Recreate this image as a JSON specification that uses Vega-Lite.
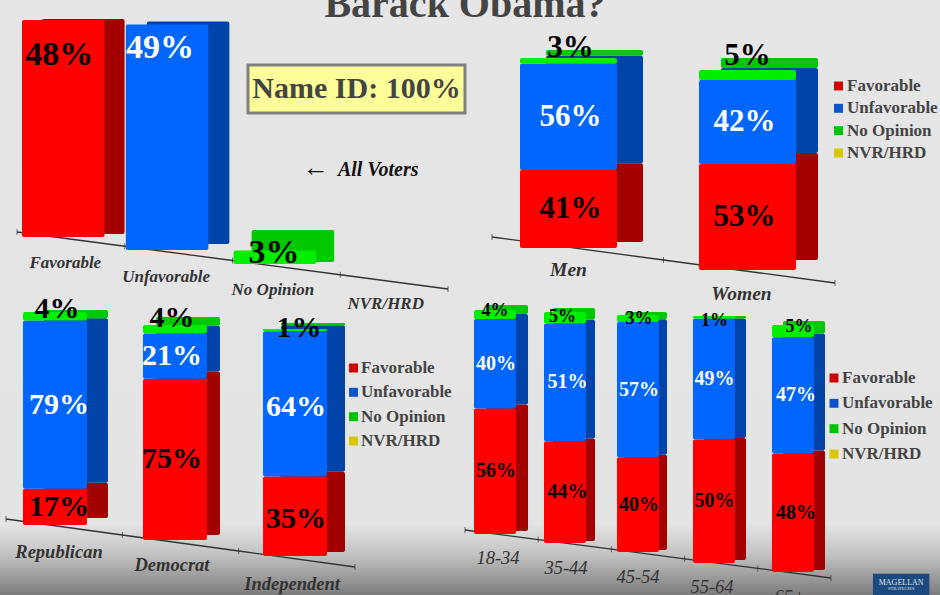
{
"$schema":"https://vega.github.io/schema/vega-lite/v6.json",
"width":940,"height":595,"padding":0,"autosize":{"type":"none"},"background":"#e6e6e6",
"config":{"axis":{"disable":true},"view":{"stroke":null},
"bar":{"cornerRadius":2},
"text":{"font":"Liberation Serif","fontWeight":"bold","baseline":"middle"}},
"datasets":{
"responses":[{"response":"Favorable"},{"response":"Unfavorable"},{"response":"No Opinion"},{"response":"NVR/HRD"}],
"survey":[
{"panel":"All","category":"Favorable","response":"Favorable","value":48,"ord":1},
{"panel":"All","category":"Unfavorable","response":"Unfavorable","value":49,"ord":2},
{"panel":"All","category":"No Opinion","response":"No Opinion","value":3,"ord":3},
{"panel":"All","category":"NVR/HRD","response":"NVR/HRD","value":0,"ord":4},
{"panel":"Gender","category":"Men","response":"Favorable","value":41,"ord":1},
{"panel":"Gender","category":"Men","response":"Unfavorable","value":56,"ord":2},
{"panel":"Gender","category":"Men","response":"No Opinion","value":3,"ord":3},
{"panel":"Gender","category":"Women","response":"Favorable","value":53,"ord":1},
{"panel":"Gender","category":"Women","response":"Unfavorable","value":42,"ord":2},
{"panel":"Gender","category":"Women","response":"No Opinion","value":5,"ord":3},
{"panel":"Party","category":"Republican","response":"Favorable","value":17,"ord":1},
{"panel":"Party","category":"Republican","response":"Unfavorable","value":79,"ord":2},
{"panel":"Party","category":"Republican","response":"No Opinion","value":4,"ord":3},
{"panel":"Party","category":"Democrat","response":"Favorable","value":75,"ord":1},
{"panel":"Party","category":"Democrat","response":"Unfavorable","value":21,"ord":2},
{"panel":"Party","category":"Democrat","response":"No Opinion","value":4,"ord":3},
{"panel":"Party","category":"Independent","response":"Favorable","value":35,"ord":1},
{"panel":"Party","category":"Independent","response":"Unfavorable","value":64,"ord":2},
{"panel":"Party","category":"Independent","response":"No Opinion","value":1,"ord":3},
{"panel":"Age","category":"18-34","response":"Favorable","value":56,"ord":1},
{"panel":"Age","category":"18-34","response":"Unfavorable","value":40,"ord":2},
{"panel":"Age","category":"18-34","response":"No Opinion","value":4,"ord":3},
{"panel":"Age","category":"35-44","response":"Favorable","value":44,"ord":1},
{"panel":"Age","category":"35-44","response":"Unfavorable","value":51,"ord":2},
{"panel":"Age","category":"35-44","response":"No Opinion","value":5,"ord":3},
{"panel":"Age","category":"45-54","response":"Favorable","value":40,"ord":1},
{"panel":"Age","category":"45-54","response":"Unfavorable","value":57,"ord":2},
{"panel":"Age","category":"45-54","response":"No Opinion","value":3,"ord":3},
{"panel":"Age","category":"55-64","response":"Favorable","value":50,"ord":1},
{"panel":"Age","category":"55-64","response":"Unfavorable","value":49,"ord":2},
{"panel":"Age","category":"55-64","response":"No Opinion","value":1,"ord":3},
{"panel":"Age","category":"65+","response":"Favorable","value":48,"ord":1},
{"panel":"Age","category":"65+","response":"Unfavorable","value":47,"ord":2},
{"panel":"Age","category":"65+","response":"No Opinion","value":5,"ord":3}
],
"ticks":[
{"panel":"All","tick":0},{"panel":"All","tick":1},{"panel":"All","tick":2},{"panel":"All","tick":3},{"panel":"All","tick":4},
{"panel":"Gender","tick":0},{"panel":"Gender","tick":1},{"panel":"Gender","tick":2},
{"panel":"Party","tick":0},{"panel":"Party","tick":1},{"panel":"Party","tick":2},{"panel":"Party","tick":3},
{"panel":"Age","tick":0},{"panel":"Age","tick":1},{"panel":"Age","tick":2},{"panel":"Age","tick":3},{"panel":"Age","tick":4},{"panel":"Age","tick":5}
]},
"data":{"values":[{"note":"frame"}]},
"resolve":{"scale":{"x":"independent","y":"independent","color":"independent","fill":"independent"}},
"layer":[
{"mark":{"type":"rect","color":{"gradient":"linear","x1":0,"y1":0,"x2":0,"y2":1,"stops":[{"offset":0,"color":"#e6e6e6"},{"offset":0.88,"color":"#e4e4e4"},{"offset":0.93,"color":"#c4c4c4"},{"offset":1,"color":"#7c7c7c"}]}},
"encoding":{"x":{"datum":0,"type":"quantitative","scale":{"domain":[0,1]}},"x2":{"datum":1},"y":{"datum":0,"type":"quantitative","scale":{"domain":[0,1]}},"y2":{"datum":1}}},

{"data":{"name":"ticks"},"transform":[{"filter":"datum.panel==='All'"}],
"encoding":{"x":{"field":"tick","type":"quantitative","scale":{"domain":[0,4],"range":[17,448],"nice":false,"zero":false}},"y":{"field":"tick","type":"quantitative","scale":{"domain":[0,4],"range":[232,289],"nice":false,"zero":false}}},
"layer":[{"mark":{"type":"line","color":"#333333","strokeWidth":1.3}},{"mark":{"type":"tick","orient":"vertical","size":6,"color":"#333333"}}]},
{"data":{"name":"ticks"},"transform":[{"filter":"datum.panel==='Gender'"}],
"encoding":{"x":{"field":"tick","type":"quantitative","scale":{"domain":[0,2],"range":[492,835],"nice":false,"zero":false}},"y":{"field":"tick","type":"quantitative","scale":{"domain":[0,2],"range":[237,283],"nice":false,"zero":false}}},
"layer":[{"mark":{"type":"line","color":"#333333","strokeWidth":1.3}},{"mark":{"type":"tick","orient":"vertical","size":6,"color":"#333333"}}]},
{"data":{"name":"ticks"},"transform":[{"filter":"datum.panel==='Party'"}],
"encoding":{"x":{"field":"tick","type":"quantitative","scale":{"domain":[0,3],"range":[6,355],"nice":false,"zero":false}},"y":{"field":"tick","type":"quantitative","scale":{"domain":[0,3],"range":[519,567],"nice":false,"zero":false}}},
"layer":[{"mark":{"type":"line","color":"#333333","strokeWidth":1.3}},{"mark":{"type":"tick","orient":"vertical","size":6,"color":"#333333"}}]},
{"data":{"name":"ticks"},"transform":[{"filter":"datum.panel==='Age'"}],
"encoding":{"x":{"field":"tick","type":"quantitative","scale":{"domain":[0,5],"range":[465,831],"nice":false,"zero":false}},"y":{"field":"tick","type":"quantitative","scale":{"domain":[0,5],"range":[530,578],"nice":false,"zero":false}}},
"layer":[{"mark":{"type":"line","color":"#333333","strokeWidth":1.3}},{"mark":{"type":"tick","orient":"vertical","size":6,"color":"#333333"}}]},

{"data":{"name":"survey"},
"transform":[{"filter":"datum.panel==='All'"},{"stack":"value","groupby":["category"],"sort":[{"field":"ord"}],"as":["v0","v1"]},{"calculate":"datum.value+'%'","as":"label"}],
"resolve":{"scale":{"y":"independent"}},
"encoding":{"x":{"field":"category","type":"nominal","scale":{"domain":["Favorable","Unfavorable","No Opinion","NVR/HRD"],"range":[22,422],"paddingInner":0.22,"paddingOuter":0}}},
"layer":[
{"resolve":{"scale":{"y":"independent"}},
"encoding":{"fill":{"field":"response","type":"nominal","legend":null,"scale":{"domain":["Favorable","Unfavorable","No Opinion","NVR/HRD"],"range":["#a30000","#0044aa","#00c800","#b0a000"]}}},
"layer":[
{"transform":[{"filter":"datum.category==='Favorable'"}],"mark":{"type":"bar","xOffset":20},"encoding":{"y":{"field":"v1","type":"quantitative","scale":{"domain":[0,50],"range":[234,10],"nice":false,"zero":false}},"y2":{"field":"v0"}}},
{"transform":[{"filter":"datum.category==='Unfavorable'"}],"mark":{"type":"bar","xOffset":19},"encoding":{"y":{"field":"v1","type":"quantitative","scale":{"domain":[0,50],"range":[244,17],"nice":false,"zero":false}},"y2":{"field":"v0"}}},
{"transform":[{"filter":"datum.category==='No Opinion'"}],"mark":{"type":"bar","xOffset":18},"encoding":{"y":{"field":"v1","type":"quantitative","scale":{"domain":[0,50],"range":[262,-271],"nice":false,"zero":false}},"y2":{"field":"v0"}}}
]},
{"resolve":{"scale":{"y":"independent"}},
"encoding":{"color":{"field":"response","type":"nominal","legend":null,"scale":{"domain":["Favorable","Unfavorable","No Opinion","NVR/HRD"],"range":["#ff0000","#0066ff","#00ee00","#e6d800"]}}},
"layer":[
{"transform":[{"filter":"datum.category==='Favorable'"}],"layer":[
{"mark":{"type":"bar"},"encoding":{"y":{"field":"v1","type":"quantitative","scale":{"domain":[0,50],"range":[237,11],"nice":false,"zero":false}},"y2":{"field":"v0"}}},
{"mark":{"type":"text","fontSize":34,"dy":35,"xOffset":-4},"encoding":{"y":{"field":"v1","type":"quantitative"},"text":{"field":"label"},"color":{"value":"#000000"}}},
{"mark":{"type":"text","fontStyle":"italic","fontSize":17,"dy":26,"xOffset":2},"encoding":{"y":{"datum":0,"type":"quantitative"},"text":{"field":"category"},"color":{"value":"#333333"}}}]},
{"transform":[{"filter":"datum.category==='Unfavorable'"}],"layer":[
{"mark":{"type":"bar","xOffset":-2},"encoding":{"y":{"field":"v1","type":"quantitative","scale":{"domain":[0,50],"range":[250,20],"nice":false,"zero":false}},"y2":{"field":"v0"}}},
{"mark":{"type":"text","fontSize":34,"dy":23,"xOffset":-9},"encoding":{"y":{"field":"v1","type":"quantitative"},"text":{"field":"label"},"color":{"value":"#ffffff"}}},
{"mark":{"type":"text","fontStyle":"italic","fontSize":17,"dy":27,"xOffset":-3},"encoding":{"y":{"datum":0,"type":"quantitative"},"text":{"field":"category"},"color":{"value":"#333333"}}}]},
{"transform":[{"filter":"datum.category==='No Opinion'"}],"layer":[
{"mark":{"type":"bar"},"encoding":{"y":{"field":"v1","type":"quantitative","scale":{"domain":[0,50],"range":[264,39],"nice":false,"zero":false}},"y2":{"field":"v0"}}},
{"mark":{"type":"text","fontSize":34,"dy":2,"xOffset":-1},"encoding":{"y":{"field":"v1","type":"quantitative"},"text":{"field":"label"},"color":{"value":"#000000"}}},
{"mark":{"type":"text","fontStyle":"italic","fontSize":17,"dy":26,"xOffset":-2},"encoding":{"y":{"datum":0,"type":"quantitative"},"text":{"field":"category"},"color":{"value":"#333333"}}}]},
{"transform":[{"filter":"datum.category==='NVR/HRD'"}],"layer":[
{"mark":{"type":"text","fontStyle":"italic","fontSize":17,"dy":28,"xOffset":5},"encoding":{"y":{"datum":0,"type":"quantitative","scale":{"domain":[0,50],"range":[276,51],"nice":false,"zero":false}},"text":{"field":"category"},"color":{"value":"#333333"}}}]}
]}
]},

{"data":{"name":"survey"},
"transform":[{"filter":"datum.panel==='Gender'"},{"stack":"value","groupby":["category"],"sort":[{"field":"ord"}],"as":["v0","v1"]},{"calculate":"datum.value+'%'","as":"label"},{"calculate":"(datum.v0+datum.v1)/2","as":"mid"}],
"resolve":{"scale":{"y":"independent"}},
"encoding":{"x":{"field":"category","type":"nominal","scale":{"domain":["Men","Women"],"range":[520,796],"paddingInner":0.458,"paddingOuter":0}}},
"layer":[
{"resolve":{"scale":{"y":"independent"}},
"encoding":{"fill":{"field":"response","type":"nominal","legend":null,"scale":{"domain":["Favorable","Unfavorable","No Opinion","NVR/HRD"],"range":["#a30000","#0044aa","#00c800","#b0a000"]}}},
"layer":[
{"transform":[{"filter":"datum.category==='Men'"}],"mark":{"type":"bar","xOffset":26},"encoding":{"y":{"field":"v1","type":"quantitative","scale":{"domain":[0,100],"range":[242,50],"nice":false,"zero":false}},"y2":{"field":"v0"}}},
{"transform":[{"filter":"datum.category==='Women'"}],"mark":{"type":"bar","xOffset":22},"encoding":{"y":{"field":"v1","type":"quantitative","scale":{"domain":[0,100],"range":[260,58],"nice":false,"zero":false}},"y2":{"field":"v0"}}}
]},
{"resolve":{"scale":{"y":"independent"}},
"encoding":{"color":{"field":"response","type":"nominal","legend":null,"scale":{"domain":["Favorable","Unfavorable","No Opinion","NVR/HRD"],"range":["#ff0000","#0066ff","#00ee00","#e6d800"]}}},
"layer":[
{"transform":[{"filter":"datum.category==='Men'"}],"layer":[
{"mark":{"type":"bar"},"encoding":{"y":{"field":"v1","type":"quantitative","scale":{"domain":[0,100],"range":[248,58],"nice":false,"zero":false}},"y2":{"field":"v0"}}},
{"transform":[{"filter":"datum.ord<3"}],"mark":{"type":"text","fontSize":31,"xOffset":2},"encoding":{"y":{"field":"mid","type":"quantitative"},"text":{"field":"label"},"color":{"condition":{"test":"datum.ord===2","value":"#ffffff"},"value":"#000000"}}},
{"transform":[{"filter":"datum.ord===3"}],"mark":{"type":"text","fontSize":31,"dy":-13,"xOffset":2},"encoding":{"y":{"field":"mid","type":"quantitative"},"text":{"field":"label"},"color":{"value":"#000000"}}},
{"transform":[{"filter":"datum.ord===1"}],"mark":{"type":"text","fontStyle":"italic","fontSize":19.5,"dy":22},"encoding":{"y":{"datum":0,"type":"quantitative"},"text":{"field":"category"},"color":{"value":"#333333"}}}]},
{"transform":[{"filter":"datum.category==='Women'"}],"layer":[
{"mark":{"type":"bar"},"encoding":{"y":{"field":"v1","type":"quantitative","scale":{"domain":[0,100],"range":[270,70],"nice":false,"zero":false}},"y2":{"field":"v0"}}},
{"transform":[{"filter":"datum.ord<3"}],"mark":{"type":"text","fontSize":31,"xOffset":-3},"encoding":{"y":{"field":"mid","type":"quantitative"},"text":{"field":"label"},"color":{"condition":{"test":"datum.ord===2","value":"#ffffff"},"value":"#000000"}}},
{"transform":[{"filter":"datum.ord===3"}],"mark":{"type":"text","fontSize":31,"dy":-19,"xOffset":0},"encoding":{"y":{"field":"mid","type":"quantitative"},"text":{"field":"label"},"color":{"value":"#000000"}}},
{"transform":[{"filter":"datum.ord===1"}],"mark":{"type":"text","fontStyle":"italic","fontSize":19.5,"dy":24,"xOffset":-6},"encoding":{"y":{"datum":0,"type":"quantitative"},"text":{"field":"category"},"color":{"value":"#333333"}}}]}
]}
]},

{"data":{"name":"survey"},
"transform":[{"filter":"datum.panel==='Party'"},{"stack":"value","groupby":["category"],"sort":[{"field":"ord"}],"as":["v0","v1"]},{"calculate":"datum.value+'%'","as":"label"},{"calculate":"(datum.v0+datum.v1)/2","as":"mid"}],
"resolve":{"scale":{"y":"independent"}},
"encoding":{"x":{"field":"category","type":"nominal","scale":{"domain":["Republican","Democrat","Independent"],"range":[23,327],"paddingInner":0.467,"paddingOuter":0}}},
"layer":[
{"resolve":{"scale":{"y":"independent"}},
"encoding":{"fill":{"field":"response","type":"nominal","legend":null,"scale":{"domain":["Favorable","Unfavorable","No Opinion","NVR/HRD"],"range":["#a30000","#0044aa","#00c800","#b0a000"]}}},
"layer":[
{"transform":[{"filter":"datum.category==='Republican'"}],"mark":{"type":"bar","xOffset":21},"encoding":{"y":{"field":"v1","type":"quantitative","scale":{"domain":[0,100],"range":[518,310],"nice":false,"zero":false}},"y2":{"field":"v0"}}},
{"transform":[{"filter":"datum.category==='Democrat'"}],"mark":{"type":"bar","xOffset":13},"encoding":{"y":{"field":"v1","type":"quantitative","scale":{"domain":[0,100],"range":[535,317],"nice":false,"zero":false}},"y2":{"field":"v0"}}},
{"transform":[{"filter":"datum.category==='Independent'"}],"mark":{"type":"bar","xOffset":18},"encoding":{"y":{"field":"v1","type":"quantitative","scale":{"domain":[0,100],"range":[552,323],"nice":false,"zero":false}},"y2":{"field":"v0"}}}
]},
{"resolve":{"scale":{"y":"independent"}},
"encoding":{"color":{"field":"response","type":"nominal","legend":null,"scale":{"domain":["Favorable","Unfavorable","No Opinion","NVR/HRD"],"range":["#ff0000","#0066ff","#00ee00","#e6d800"]}}},
"layer":[
{"transform":[{"filter":"datum.category==='Republican'"}],"layer":[
{"mark":{"type":"bar"},"encoding":{"y":{"field":"v1","type":"quantitative","scale":{"domain":[0,100],"range":[525,312],"nice":false,"zero":false}},"y2":{"field":"v0"}}},
{"transform":[{"filter":"datum.ord<3"}],"mark":{"type":"text","fontSize":30,"xOffset":4},"encoding":{"y":{"field":"mid","type":"quantitative"},"text":{"field":"label"},"color":{"condition":{"test":"datum.ord===2","value":"#ffffff"},"value":"#000000"}}},
{"transform":[{"filter":"datum.ord===3"}],"mark":{"type":"text","fontSize":30,"dy":-7,"xOffset":2},"encoding":{"y":{"field":"mid","type":"quantitative"},"text":{"field":"label"},"color":{"value":"#000000"}}},
{"transform":[{"filter":"datum.ord===1"}],"mark":{"type":"text","fontStyle":"italic","fontSize":18.5,"dy":27,"xOffset":4},"encoding":{"y":{"datum":0,"type":"quantitative"},"text":{"field":"category"},"color":{"value":"#333333"}}}]},
{"transform":[{"filter":"datum.category==='Democrat'"}],"layer":[
{"mark":{"type":"bar"},"encoding":{"y":{"field":"v1","type":"quantitative","scale":{"domain":[0,100],"range":[540,325],"nice":false,"zero":false}},"y2":{"field":"v0"}}},
{"transform":[{"filter":"datum.ord<3"}],"mark":{"type":"text","fontSize":30,"xOffset":-3},"encoding":{"y":{"field":"mid","type":"quantitative"},"text":{"field":"label"},"color":{"condition":{"test":"datum.ord===2","value":"#ffffff"},"value":"#000000"}}},
{"transform":[{"filter":"datum.ord===3"}],"mark":{"type":"text","fontSize":30,"dy":-11,"xOffset":-3},"encoding":{"y":{"field":"mid","type":"quantitative"},"text":{"field":"label"},"color":{"value":"#000000"}}},
{"transform":[{"filter":"datum.ord===1"}],"mark":{"type":"text","fontStyle":"italic","fontSize":18.5,"dy":25,"xOffset":-3},"encoding":{"y":{"datum":0,"type":"quantitative"},"text":{"field":"category"},"color":{"value":"#333333"}}}]},
{"transform":[{"filter":"datum.category==='Independent'"}],"layer":[
{"mark":{"type":"bar"},"encoding":{"y":{"field":"v1","type":"quantitative","scale":{"domain":[0,100],"range":[556,329],"nice":false,"zero":false}},"y2":{"field":"v0"}}},
{"transform":[{"filter":"datum.ord<3"}],"mark":{"type":"text","fontSize":30,"dy":3,"xOffset":1},"encoding":{"y":{"field":"mid","type":"quantitative"},"text":{"field":"label"},"color":{"condition":{"test":"datum.ord===2","value":"#ffffff"},"value":"#000000"}}},
{"transform":[{"filter":"datum.ord===3"}],"mark":{"type":"text","fontSize":30,"dy":-2,"xOffset":4},"encoding":{"y":{"field":"mid","type":"quantitative"},"text":{"field":"label"},"color":{"value":"#000000"}}},
{"transform":[{"filter":"datum.ord===1"}],"mark":{"type":"text","fontStyle":"italic","fontSize":18.5,"dy":28,"xOffset":-3},"encoding":{"y":{"datum":0,"type":"quantitative"},"text":{"field":"category"},"color":{"value":"#333333"}}}]}
]}
]},

{"data":{"name":"survey"},
"transform":[{"filter":"datum.panel==='Age'"},{"stack":"value","groupby":["category"],"sort":[{"field":"ord"}],"as":["v0","v1"]},{"calculate":"datum.value+'%'","as":"label"},{"calculate":"(datum.v0+datum.v1)/2","as":"mid"}],
"resolve":{"scale":{"y":"independent"}},
"encoding":{"x":{"field":"category","type":"nominal","scale":{"domain":["18-34","35-44","45-54","55-64","65+"],"range":[474,814],"paddingInner":0.436,"paddingOuter":0}}},
"layer":[
{"resolve":{"scale":{"y":"independent"}},
"encoding":{"fill":{"field":"response","type":"nominal","legend":null,"scale":{"domain":["Favorable","Unfavorable","No Opinion","NVR/HRD"],"range":["#a30000","#0044aa","#00c800","#b0a000"]}}},
"layer":[
{"transform":[{"filter":"datum.category==='18-34'"}],"mark":{"type":"bar","xOffset":12},"encoding":{"y":{"field":"v1","type":"quantitative","scale":{"domain":[0,100],"range":[531,305],"nice":false,"zero":false}},"y2":{"field":"v0"}}},
{"transform":[{"filter":"datum.category==='35-44'"}],"mark":{"type":"bar","xOffset":4.5},"encoding":{"y":{"field":"v1","type":"quantitative","scale":{"domain":[0,100],"range":[541,308],"nice":false,"zero":false}},"y2":{"field":"v0"}}},
{"transform":[{"filter":"datum.category==='45-54'"}],"mark":{"type":"bar","xOffset":2},"encoding":{"y":{"field":"v1","type":"quantitative","scale":{"domain":[0,100],"range":[550,312],"nice":false,"zero":false}},"y2":{"field":"v0"}}},
{"transform":[{"filter":"datum.category==='55-64'"}],"mark":{"type":"bar","xOffset":6.5},"encoding":{"y":{"field":"v1","type":"quantitative","scale":{"domain":[0,100],"range":[560,316],"nice":false,"zero":false}},"y2":{"field":"v0"}}},
{"transform":[{"filter":"datum.category==='65+'"}],"mark":{"type":"bar","xOffset":11},"encoding":{"y":{"field":"v1","type":"quantitative","scale":{"domain":[0,100],"range":[570,321],"nice":false,"zero":false}},"y2":{"field":"v0"}}}
]},
{"resolve":{"scale":{"y":"independent"}},
"encoding":{"color":{"field":"response","type":"nominal","legend":null,"scale":{"domain":["Favorable","Unfavorable","No Opinion","NVR/HRD"],"range":["#ff0000","#0066ff","#00ee00","#e6d800"]}}},
"layer":[
{"transform":[{"filter":"datum.category==='18-34'"}],"layer":[
{"mark":{"type":"bar"},"encoding":{"y":{"field":"v1","type":"quantitative","scale":{"domain":[0,100],"range":[534,310],"nice":false,"zero":false}},"y2":{"field":"v0"}}},
{"transform":[{"filter":"datum.ord<3"}],"mark":{"type":"text","fontSize":20,"xOffset":1},"encoding":{"y":{"field":"mid","type":"quantitative"},"text":{"field":"label"},"color":{"condition":{"test":"datum.ord===2","value":"#ffffff"},"value":"#000000"}}},
{"transform":[{"filter":"datum.ord===3"}],"mark":{"type":"text","fontSize":18,"dy":-3},"encoding":{"y":{"field":"mid","type":"quantitative"},"text":{"field":"label"},"color":{"value":"#000000"}}},
{"transform":[{"filter":"datum.ord===1"}],"mark":{"type":"text","fontStyle":"italic","fontSize":18.5,"fontWeight":"normal","dy":24,"xOffset":3},"encoding":{"y":{"datum":0,"type":"quantitative"},"text":{"field":"category"},"color":{"value":"#333333"}}}]},
{"transform":[{"filter":"datum.category==='35-44'"}],"layer":[
{"mark":{"type":"bar","xOffset":-4.5},"encoding":{"y":{"field":"v1","type":"quantitative","scale":{"domain":[0,100],"range":[543,312],"nice":false,"zero":false}},"y2":{"field":"v0"}}},
{"transform":[{"filter":"datum.ord<3"}],"mark":{"type":"text","fontSize":20,"xOffset":-2},"encoding":{"y":{"field":"mid","type":"quantitative"},"text":{"field":"label"},"color":{"condition":{"test":"datum.ord===2","value":"#ffffff"},"value":"#000000"}}},
{"transform":[{"filter":"datum.ord===3"}],"mark":{"type":"text","fontSize":18,"dy":-1,"xOffset":-7},"encoding":{"y":{"field":"mid","type":"quantitative"},"text":{"field":"label"},"color":{"value":"#000000"}}},
{"transform":[{"filter":"datum.ord===1"}],"mark":{"type":"text","fontStyle":"italic","fontSize":18.5,"fontWeight":"normal","dy":25,"xOffset":-3.5},"encoding":{"y":{"datum":0,"type":"quantitative"},"text":{"field":"category"},"color":{"value":"#333333"}}}]},
{"transform":[{"filter":"datum.category==='45-54'"}],"layer":[
{"mark":{"type":"bar","xOffset":-6},"encoding":{"y":{"field":"v1","type":"quantitative","scale":{"domain":[0,100],"range":[552,315],"nice":false,"zero":false}},"y2":{"field":"v0"}}},
{"transform":[{"filter":"datum.ord<3"}],"mark":{"type":"text","fontSize":20,"xOffset":-5},"encoding":{"y":{"field":"mid","type":"quantitative"},"text":{"field":"label"},"color":{"condition":{"test":"datum.ord===2","value":"#ffffff"},"value":"#000000"}}},
{"transform":[{"filter":"datum.ord===3"}],"mark":{"type":"text","fontSize":18,"dy":0,"xOffset":-5},"encoding":{"y":{"field":"mid","type":"quantitative"},"text":{"field":"label"},"color":{"value":"#000000"}}},
{"transform":[{"filter":"datum.ord===1"}],"mark":{"type":"text","fontStyle":"italic","fontSize":18.5,"fontWeight":"normal","dy":25,"xOffset":-6},"encoding":{"y":{"datum":0,"type":"quantitative"},"text":{"field":"category"},"color":{"value":"#333333"}}}]},
{"transform":[{"filter":"datum.category==='55-64'"}],"layer":[
{"mark":{"type":"bar","xOffset":-4.5},"encoding":{"y":{"field":"v1","type":"quantitative","scale":{"domain":[0,100],"range":[563,316],"nice":false,"zero":false}},"y2":{"field":"v0"}}},
{"transform":[{"filter":"datum.ord<3"}],"mark":{"type":"text","fontSize":20,"xOffset":-4},"encoding":{"y":{"field":"mid","type":"quantitative"},"text":{"field":"label"},"color":{"condition":{"test":"datum.ord===2","value":"#ffffff"},"value":"#000000"}}},
{"transform":[{"filter":"datum.ord===3"}],"mark":{"type":"text","fontSize":18,"dy":4,"xOffset":-4},"encoding":{"y":{"field":"mid","type":"quantitative"},"text":{"field":"label"},"color":{"value":"#000000"}}},
{"transform":[{"filter":"datum.ord===1"}],"mark":{"type":"text","fontStyle":"italic","fontSize":18.5,"fontWeight":"normal","dy":24,"xOffset":-6.5},"encoding":{"y":{"datum":0,"type":"quantitative"},"text":{"field":"category"},"color":{"value":"#333333"}}}]},
{"transform":[{"filter":"datum.category==='65+'"}],"layer":[
{"mark":{"type":"bar"},"encoding":{"y":{"field":"v1","type":"quantitative","scale":{"domain":[0,100],"range":[572,325],"nice":false,"zero":false}},"y2":{"field":"v0"}}},
{"transform":[{"filter":"datum.ord<3"}],"mark":{"type":"text","fontSize":20,"xOffset":3},"encoding":{"y":{"field":"mid","type":"quantitative"},"text":{"field":"label"},"color":{"condition":{"test":"datum.ord===2","value":"#ffffff"},"value":"#000000"}}},
{"transform":[{"filter":"datum.ord===3"}],"mark":{"type":"text","fontSize":18,"dy":-4,"xOffset":6},"encoding":{"y":{"field":"mid","type":"quantitative"},"text":{"field":"label"},"color":{"value":"#000000"}}},
{"transform":[{"filter":"datum.ord===1"}],"mark":{"type":"text","fontStyle":"italic","fontSize":18.5,"fontWeight":"normal","dy":25,"xOffset":-3},"encoding":{"y":{"datum":0,"type":"quantitative"},"text":{"field":"category"},"color":{"value":"#333333"}}}]}
]}
]},

{"data":{"name":"responses"},
"encoding":{"y":{"field":"response","type":"nominal","scale":{"type":"point","padding":0,"domain":["Favorable","Unfavorable","No Opinion","NVR/HRD"],"range":[86,153]}}},
"layer":[
{"mark":{"type":"square","size":80,"opacity":1},"encoding":{"x":{"datum":0,"type":"quantitative","scale":{"domain":[0,1],"range":[838.5,847],"nice":false,"zero":false}},"color":{"field":"response","type":"nominal","legend":null,"scale":{"domain":["Favorable","Unfavorable","No Opinion","NVR/HRD"],"range":["#d00000","#0a55cc","#00c400","#d8c800"]}}}},
{"mark":{"type":"text","align":"left","fontSize":17,"color":"#444444"},"encoding":{"x":{"datum":1,"type":"quantitative"},"text":{"field":"response"}}}
]},
{"data":{"name":"responses"},
"encoding":{"y":{"field":"response","type":"nominal","scale":{"type":"point","padding":0,"domain":["Favorable","Unfavorable","No Opinion","NVR/HRD"],"range":[368,441]}}},
"layer":[
{"mark":{"type":"square","size":80,"opacity":1},"encoding":{"x":{"datum":0,"type":"quantitative","scale":{"domain":[0,1],"range":[353.5,361],"nice":false,"zero":false}},"color":{"field":"response","type":"nominal","legend":null,"scale":{"domain":["Favorable","Unfavorable","No Opinion","NVR/HRD"],"range":["#d00000","#0a55cc","#00c400","#d8c800"]}}}},
{"mark":{"type":"text","align":"left","fontSize":17,"color":"#444444"},"encoding":{"x":{"datum":1,"type":"quantitative"},"text":{"field":"response"}}}
]},
{"data":{"name":"responses"},
"encoding":{"y":{"field":"response","type":"nominal","scale":{"type":"point","padding":0,"domain":["Favorable","Unfavorable","No Opinion","NVR/HRD"],"range":[378,454]}}},
"layer":[
{"mark":{"type":"square","size":80,"opacity":1},"encoding":{"x":{"datum":0,"type":"quantitative","scale":{"domain":[0,1],"range":[834,842],"nice":false,"zero":false}},"color":{"field":"response","type":"nominal","legend":null,"scale":{"domain":["Favorable","Unfavorable","No Opinion","NVR/HRD"],"range":["#d00000","#0a55cc","#00c400","#d8c800"]}}}},
{"mark":{"type":"text","align":"left","fontSize":17,"color":"#444444"},"encoding":{"x":{"datum":1,"type":"quantitative"},"text":{"field":"response"}}}
]},

{"encoding":{"x":{"datum":0,"type":"quantitative","scale":{"domain":[0,1],"range":[248,465],"nice":false,"zero":false}},"y":{"datum":0,"type":"quantitative","scale":{"domain":[0,1],"range":[113,65],"nice":false,"zero":false}}},
"layer":[
{"mark":{"type":"rect","fill":"#ffff99","stroke":"#808080","strokeWidth":3},"encoding":{"x2":{"datum":1},"y2":{"datum":1}}},
{"mark":{"type":"text","fontSize":30,"color":"#444444"},"encoding":{"x":{"datum":0.5,"type":"quantitative"},"y":{"datum":0.5,"type":"quantitative"},"text":{"value":"Name ID: 100%"}}},
{"mark":{"type":"text","fontSize":26,"fontWeight":"normal","color":"#111111"},"encoding":{"x":{"datum":0.313,"type":"quantitative"},"y":{"datum":-1.15,"type":"quantitative"},"text":{"value":"←"}}},
{"mark":{"type":"text","fontSize":20,"fontStyle":"italic","color":"#111111"},"encoding":{"x":{"datum":0.6,"type":"quantitative"},"y":{"datum":-1.19,"type":"quantitative"},"text":{"value":"All Voters"}}},
{"mark":{"type":"text","fontSize":40,"baseline":"alphabetic","color":"#444444"},"encoding":{"x":{"datum":1,"type":"quantitative"},"y":{"datum":2,"type":"quantitative"},"text":{"value":"Barack Obama?"}}},
{"mark":{"type":"rect","fill":"#1c4a80"},"encoding":{"x":{"datum":2.88,"type":"quantitative"},"x2":{"datum":3.14},"y":{"datum":-9.6,"type":"quantitative"},"y2":{"datum":-10.1}}},
{"mark":{"type":"text","fontSize":8,"fontWeight":"normal","color":"#dfe6ee"},"encoding":{"x":{"datum":3.01,"type":"quantitative"},"y":{"datum":-9.8,"type":"quantitative"},"text":{"value":"MAGELLAN"}}},
{"mark":{"type":"text","fontSize":4.5,"fontWeight":"normal","color":"#dfe6ee"},"encoding":{"x":{"datum":3.01,"type":"quantitative"},"y":{"datum":-9.92,"type":"quantitative"},"text":{"value":"STRATEGIES"}}}
]}
]}
